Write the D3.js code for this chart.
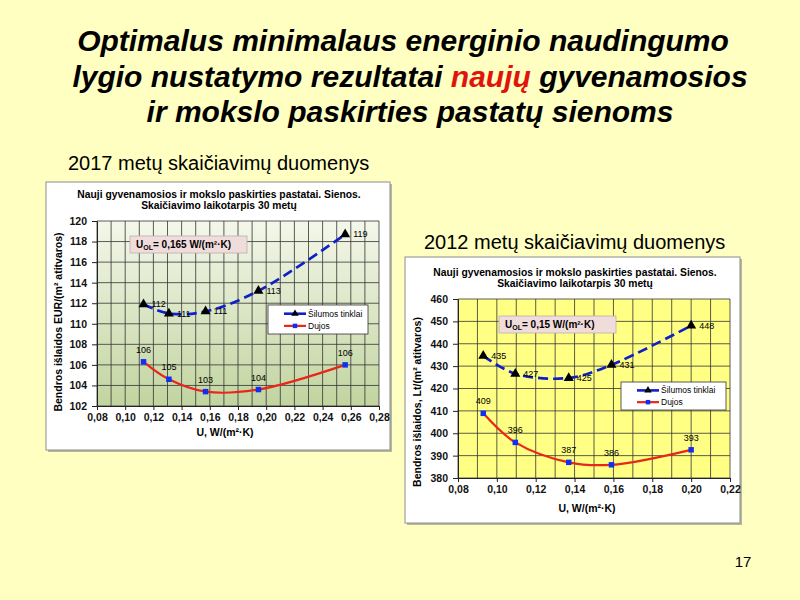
<!DOCTYPE html>
<html>
<head>
<meta charset="utf-8">
<script src="https://cdn.jsdelivr.net/npm/d3@7"></script>
<style>
  body { margin: 0; background: #FFFFC2; }
  svg { display: block; }
  text { font-family: "Liberation Sans", Arial, sans-serif; }
</style>
</head>
<body>
<div id="slide"></div>
<script>
// ---- data ----
const seriesNames = ["Šilumos tinklai", "Dujos"];

// 2017 calculation (EUR)
const u2017 = [0.113, 0.131, 0.157, 0.1945, 0.256];
const heat2017 = [111.9, 111.0, 111.2, 113.2, 118.7];
const gas2017 = [106.3, 104.6, 103.4, 103.6, 106.0];
const xTicks2017 = [0.08, 0.10, 0.12, 0.14, 0.16, 0.18, 0.20, 0.22, 0.24, 0.26, 0.28];
const yTicks2017 = [102, 104, 106, 108, 110, 112, 114, 116, 118, 120];

// 2012 calculation (Lt)
const u2012 = [0.093, 0.1095, 0.137, 0.159, 0.2];
const heat2012 = [434.6, 426.6, 424.7, 430.6, 448.1];
const gas2012 = [408.9, 395.9, 387.0, 385.9, 392.6];
const xTicks2012 = [0.08, 0.10, 0.12, 0.14, 0.16, 0.18, 0.20, 0.22];
const yTicks2012 = [380, 390, 400, 410, 420, 430, 440, 450, 460];

const width = 800;
const height = 600;
const svg = d3.select("#slide").append("svg")
  .attr("width", width)
  .attr("height", height);

const defs = svg.append("defs");
const grad = defs.append("linearGradient")
  .attr("id", "greenFade")
  .attr("x1", 0).attr("y1", 0).attr("x2", 0).attr("y2", 1);
grad.append("stop").attr("offset", "0%").attr("stop-color", "#F4F7EA");
grad.append("stop").attr("offset", "100%").attr("stop-color", "#C1D49F");

//#region Slide titles
const title = svg.append("text")
  .attr("text-anchor", "middle")
  .style("font-size", "30px")
  .style("font-weight", "bold")
  .style("font-style", "italic");
title.append("tspan").attr("x", 403).attr("y", 51).text("Optimalus minimalaus energinio naudingumo");
const l2 = title.append("tspan").attr("x", 410).attr("y", 87);
l2.append("tspan").text("lygio nustatymo rezultatai ");
l2.append("tspan").attr("fill", "#E0140C").text("naujų");
l2.append("tspan").text(" gyvenamosios");
title.append("tspan").attr("x", 410).attr("y", 122).text("ir mokslo paskirties pastatų sienoms");

svg.append("text").attr("x", 68).attr("y", 170)
  .style("font-size", "20px").text("2017 metų skaičiavimų duomenys");
svg.append("text").attr("x", 424).attr("y", 249)
  .style("font-size", "20px").text("2012 metų skaičiavimų duomenys");
svg.append("text").attr("x", 743).attr("y", 567).attr("text-anchor", "middle")
  .style("font-size", "15px").text("17");
//#endregion

const fmtComma = d => d3.format(".2f")(d).replace(".", ",");

function drawChart(cfg) {
  const { box, plot } = cfg;
  const g = svg.append("g");

  // frame with a soft shadow
  g.append("rect")
    .attr("x", box.x + 2).attr("y", box.y + 2)
    .attr("width", box.w).attr("height", box.h)
    .attr("fill", "#B8B89A");
  g.append("rect")
    .attr("x", box.x).attr("y", box.y)
    .attr("width", box.w).attr("height", box.h)
    .attr("fill", "#fff")
    .attr("stroke", "#8C8C8C");

  // chart title
  const t = g.append("text")
    .attr("text-anchor", "middle")
    .style("font-size", "10.3px").style("font-weight", "bold");
  t.append("tspan").attr("x", cfg.titleX).attr("y", cfg.titleY)
    .text("Nauji gyvenamosios ir mokslo paskirties pastatai. Sienos.");
  t.append("tspan").attr("x", cfg.titleX).attr("y", cfg.titleY + 11)
    .text("Skaičiavimo laikotarpis 30 metų");

  const x = d3.scaleLinear().domain(cfg.xDomain).range([plot.x0, plot.x1]);
  const y = d3.scaleLinear().domain(cfg.yDomain).range([plot.y1, plot.y0]);

  g.append("rect")
    .attr("x", plot.x0).attr("y", plot.y0)
    .attr("width", plot.x1 - plot.x0).attr("height", plot.y1 - plot.y0)
    .attr("fill", cfg.plotFill);

  // grid
  g.append("g").selectAll("line")
    .data(x.ticks(cfg.xMinor))
    .join("line")
    .attr("x1", d => x(d)).attr("x2", d => x(d))
    .attr("y1", plot.y0).attr("y2", plot.y1)
    .attr("stroke", "#333").attr("stroke-width", 0.8);
  g.append("g").selectAll("line")
    .data(cfg.yTicks)
    .join("line")
    .attr("x1", plot.x0).attr("x2", plot.x1)
    .attr("y1", d => y(d)).attr("y2", d => y(d))
    .attr("stroke", "#333").attr("stroke-width", 0.8);

  // axes
  const axX = g.append("g")
    .attr("transform", `translate(0,${plot.y1})`)
    .call(d3.axisBottom(x).tickValues(cfg.xTicks).tickFormat(fmtComma).tickSize(4).tickPadding(4).tickSizeOuter(0));
  const axY = g.append("g")
    .attr("transform", `translate(${plot.x0},0)`)
    .call(d3.axisLeft(y).tickValues(cfg.yTicks).tickSize(5).tickPadding(5).tickSizeOuter(0));
  [axX, axY].forEach(a => {
    a.select(".domain").attr("stroke", "#222");
    a.selectAll("line").attr("stroke", "#222");
    a.selectAll("text")
      .attr("fill", "#111")
      .style("font-family", "'Liberation Sans', Arial, sans-serif")
      .style("font-size", "10.5px").style("font-weight", "bold");
  });

  // axis titles
  g.append("text")
    .attr("x", cfg.xLabelX).attr("y", cfg.xLabelY)
    .attr("text-anchor", "middle")
    .style("font-size", "10.5px").style("font-weight", "bold")
    .text("U, W/(m²·K)");
  g.append("text")
    .attr("transform", `translate(${cfg.yLabelX},${cfg.yLabelY}) rotate(-90)`)
    .attr("text-anchor", "middle")
    .style("font-size", "10.5px").style("font-weight", "bold")
    .text(cfg.yLabel);

  // U_OL note
  g.append("rect")
    .attr("x", cfg.note.x).attr("y", cfg.note.y)
    .attr("width", cfg.note.w).attr("height", cfg.note.h)
    .attr("fill", "#F1DCDC").attr("stroke", "#B9AFAF").attr("stroke-width", 0.8);
  const nt = g.append("text")
    .attr("x", cfg.note.x + 6).attr("y", cfg.note.y + cfg.note.h / 2 + 3.5)
    .style("font-size", "10px").style("font-weight", "bold");
  nt.append("tspan").text("U");
  nt.append("tspan").attr("baseline-shift", "-25%").style("font-size", "7px").text("OL");
  nt.append("tspan").text(`= ${cfg.uol} W/(m²·K)`);

  // series
  const heat = cfg.u.map((u, i) => ({ u, v: cfg.heat[i] }));
  const gas = cfg.u.map((u, i) => ({ u, v: cfg.gas[i] }));
  const line = d3.line().x(d => x(d.u)).y(d => y(d.v)).curve(d3.curveCatmullRom.alpha(0.5));

  g.append("path").datum(gas)
    .attr("d", line).attr("fill", "none")
    .attr("stroke", "#E8261A").attr("stroke-width", 2.2);
  g.append("path").datum(heat)
    .attr("d", line).attr("fill", "none")
    .attr("stroke", "#1020C8").attr("stroke-width", 2.7)
    .attr("stroke-dasharray", "10,5");

  const tri = d3.symbol().type(d3.symbolTriangle).size(44);
  const sq = d3.symbol().type(d3.symbolSquare).size(30);

  g.append("g").selectAll("path")
    .data(heat).join("path")
    .attr("transform", d => `translate(${x(d.u)},${y(d.v)})`)
    .attr("d", tri).attr("fill", "#000");
  g.append("g").selectAll("path")
    .data(gas).join("path")
    .attr("transform", d => `translate(${x(d.u)},${y(d.v)})`)
    .attr("d", sq).attr("fill", "#1030F0");

  g.append("g").selectAll("text")
    .data(heat).join("text")
    .attr("x", d => x(d.u) + 8).attr("y", d => y(d.v) + 3)
    .style("font-size", "9px")
    .text(d => Math.round(d.v));
  g.append("g").selectAll("text")
    .data(gas).join("text")
    .attr("x", d => x(d.u)).attr("y", d => y(d.v) - 9)
    .attr("text-anchor", "middle")
    .style("font-size", "9px")
    .text(d => Math.round(d.v));

  // legend
  const lg = g.append("g").attr("transform", `translate(${cfg.legend.x},${cfg.legend.y})`);
  lg.append("rect")
    .attr("width", cfg.legend.w).attr("height", cfg.legend.h)
    .attr("fill", "#fff").attr("stroke", "#333").attr("stroke-width", 0.8);
  const rows = [
    { name: seriesNames[0], color: "#1020C8", symFill: "#000", w: 2.6 },
    { name: seriesNames[1], color: "#E8261A", symFill: "#1030F0", w: 2.2 }
  ];
  rows.forEach((r, i) => {
    const ry = cfg.legend.h * (i === 0 ? 0.3 : 0.72);
    lg.append("line")
      .attr("x1", 16).attr("x2", 38).attr("y1", ry).attr("y2", ry)
      .attr("stroke", r.color).attr("stroke-width", r.w);
    lg.append("path")
      .attr("transform", `translate(27,${ry})`)
      .attr("d", d3.symbol().type(i === 0 ? d3.symbolTriangle : d3.symbolSquare).size(i === 0 ? 24 : 20))
      .attr("fill", r.symFill);
    lg.append("text")
      .attr("x", 40).attr("y", ry + 3)
      .style("font-size", "8.5px")
      .text(r.name);
  });
}

drawChart({
  box: { x: 46, y: 182, w: 344, h: 268 },
  plot: { x0: 97, x1: 379, y0: 221, y1: 406 },
  titleX: 219, titleY: 198,
  xDomain: [0.08, 0.28], xMinor: 20, xTicks: xTicks2017,
  yDomain: [102, 120], yTicks: yTicks2017,
  plotFill: "url(#greenFade)",
  xLabelX: 225, xLabelY: 436,
  yLabelX: 62, yLabelY: 322,
  yLabel: "Bendros išlaidos EUR/(m² atitvaros)",
  note: { x: 130, y: 236, w: 117, h: 17 },
  uol: "0,165",
  legend: { x: 268, y: 305, w: 100, h: 29 },
  u: u2017, heat: heat2017, gas: gas2017
});

drawChart({
  box: { x: 405, y: 257, w: 335, h: 266 },
  plot: { x0: 458, x1: 730, y0: 299, y1: 478 },
  titleX: 575, titleY: 276,
  xDomain: [0.08, 0.22], xMinor: 14, xTicks: xTicks2012,
  yDomain: [380, 460], yTicks: yTicks2012,
  plotFill: "#FFFF84",
  xLabelX: 587, xLabelY: 512,
  yLabelX: 421, yLabelY: 402,
  yLabel: "Bendros išlaidos, Lt/(m² atitvaros)",
  note: { x: 499, y: 316, w: 117, h: 17 },
  uol: "0,15",
  legend: { x: 621, y: 382, w: 105, h: 28 },
  u: u2012, heat: heat2012, gas: gas2012
});
</script>
</body>
</html>
